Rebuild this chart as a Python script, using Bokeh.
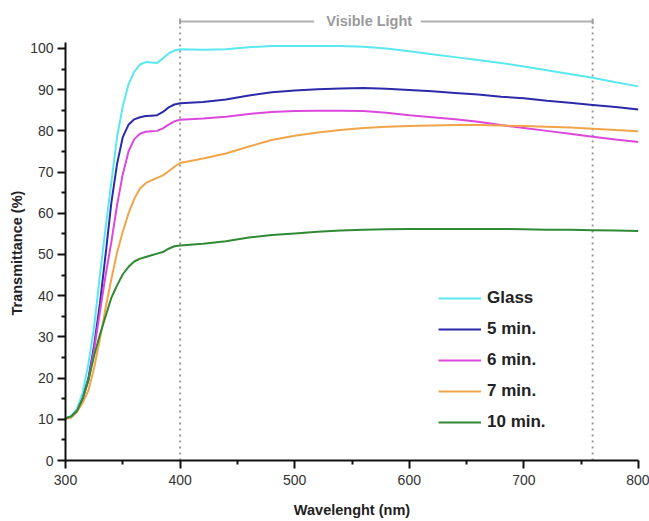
from bokeh.plotting import figure
from bokeh.models import Label, Legend, LegendItem, Range1d, FixedTicker, Title
from bokeh.embed import file_html
from bokeh.resources import INLINE

wavelength = [300, 305, 310, 315, 320, 325, 330, 335, 340, 345, 350, 355, 360, 365, 370,
              375, 380, 385, 390, 395, 400, 420, 440, 460, 480, 500, 520, 540, 560, 580,
              600, 620, 640, 660, 680, 700, 720, 740, 760, 780, 800]

glass = [10.2, 10.8, 12.5, 16.5, 23.5, 32.5, 45.0, 56.5, 67.5, 78.5, 86.0, 91.3, 94.4, 96.1, 96.7,
         96.6, 96.5, 97.6, 98.8, 99.5, 99.8, 99.7, 99.8, 100.3, 100.6, 100.6, 100.6, 100.6, 100.4, 100.0,
         99.3, 98.6, 97.9, 97.2, 96.5, 95.6, 94.7, 93.8, 92.9, 91.8, 90.8]
min5 = [10.2, 10.6, 12.0, 15.0, 20.0, 28.0, 38.0, 50.0, 62.5, 72.0, 78.5, 81.5, 82.8, 83.3, 83.6,
        83.7, 83.8, 84.6, 85.7, 86.4, 86.7, 87.0, 87.6, 88.6, 89.4, 89.8, 90.1, 90.3, 90.4, 90.2,
        89.9, 89.6, 89.2, 88.8, 88.3, 87.9, 87.3, 86.8, 86.3, 85.8, 85.2]
min6 = [10.2, 10.6, 12.0, 15.0, 19.5, 27.0, 36.0, 45.0, 53.0, 62.0, 69.5, 75.0, 78.0, 79.3, 79.8,
        79.9, 80.0, 80.6, 81.5, 82.3, 82.7, 83.0, 83.4, 84.1, 84.6, 84.8, 84.9, 84.9, 84.8, 84.4,
        83.8, 83.3, 82.8, 82.2, 81.4, 80.7, 80.0, 79.3, 78.6, 77.9, 77.3]
min7 = [10.2, 10.4, 11.8, 14.0, 17.0, 22.5, 29.5, 37.0, 44.0, 50.5, 55.5, 60.0, 63.5, 66.0, 67.3,
        68.0, 68.6, 69.2, 70.2, 71.3, 72.2, 73.3, 74.5, 76.2, 77.8, 78.8, 79.6, 80.2, 80.7, 81.0,
        81.2, 81.3, 81.4, 81.4, 81.3, 81.2, 81.0, 80.8, 80.5, 80.2, 79.9]
min10 = [10.2, 10.7, 12.0, 15.0, 19.5, 25.5, 30.5, 35.0, 39.5, 42.5, 45.2, 47.0, 48.3, 49.0, 49.4,
         49.8, 50.2, 50.6, 51.4, 52.0, 52.2, 52.6, 53.2, 54.1, 54.7, 55.1, 55.5, 55.8, 56.0, 56.1,
         56.2, 56.2, 56.2, 56.2, 56.2, 56.1, 56.0, 56.0, 55.9, 55.8, 55.7]

series_names = ["Glass", "5 min.", "6 min.", "7 min.", "10 min."]
series_colors = ["#5ae8f0", "#2b2baa", "#dc48dc", "#f0a548", "#2f8a33"]
series_values = [glass, min5, min6, min7, min10]

x_ticks = [300, 400, 500, 600, 700, 800]
y_ticks = [0, 10, 20, 30, 40, 50, 60, 70, 80, 90, 100]

visible_start = 400
visible_end = 760
bracket_level = 106.55
label_center = 565
gap_left = 517
gap_right = 610

FONT = "Liberation Sans"

p = figure(frame_width=573, frame_height=452, output_backend="svg", toolbar_location=None,
           x_range=Range1d(300, 800), y_range=Range1d(0, 109.7),
           min_border_left=65, min_border_right=11, min_border_top=8, min_border_bottom=60)
p.outline_line_color = None
p.grid.grid_line_color = None
p.background_fill_color = "white"

# visible light markers
for xv in (visible_start, visible_end):
    p.segment(x0=[xv], y0=[0], x1=[xv], y1=[bracket_level], line_color="#9a9a9a",
              line_width=2, line_dash="2 4")
p.segment(x0=[visible_start, gap_right], y0=[bracket_level, bracket_level],
          x1=[gap_left, visible_end], y1=[bracket_level, bracket_level],
          line_color="#b0b0b0", line_width=2)
p.segment(x0=[visible_start, visible_end], y0=[bracket_level - 0.7, bracket_level - 0.7],
          x1=[visible_start, visible_end], y1=[bracket_level + 0.7, bracket_level + 0.7],
          line_color="#a0a0a0", line_width=2)
p.add_layout(Label(x=label_center, y=bracket_level, text="Visible Light", text_align="center",
                   text_baseline="middle", text_font=FONT, text_font_style="bold",
                   text_font_size="14.5px", text_color="#9a9a9a"))

items = []
for name, col, vals in zip(series_names, series_colors, series_values):
    r = p.line(wavelength, vals, line_color=col, line_width=2)
    items.append(LegendItem(label=name, renderers=[r]))

legend = Legend(items=items, location=(373, 28), glyph_width=43, glyph_height=20,
                label_height=20, label_standoff=6, spacing=11, padding=0, margin=0,
                border_line_color=None, background_fill_alpha=0,
                label_text_font=FONT, label_text_font_style="bold",
                label_text_font_size="17px", label_text_color="#222222")
p.add_layout(legend, "center")

for ax in (p.xaxis[0], p.yaxis[0]):
    ax.axis_line_width = 2
    ax.axis_line_color = "#111111"
    ax.major_tick_line_width = 2
    ax.minor_tick_line_width = 2
    ax.major_tick_line_color = "#111111"
    ax.minor_tick_line_color = "#111111"
    ax.major_tick_in = 0
    ax.major_tick_out = 8
    ax.minor_tick_in = 0
    ax.minor_tick_out = 4
    ax.major_label_text_font = FONT
    ax.major_label_text_font_size = "14px"
    ax.major_label_text_color = "#333333"

p.xaxis.ticker = FixedTicker(ticks=x_ticks, minor_ticks=[350, 450, 550, 650, 750])
p.yaxis.ticker = FixedTicker(ticks=y_ticks, minor_ticks=[5, 15, 25, 35, 45, 55, 65, 75, 85, 95])
p.yaxis.bounds = (0, 101.5)
p.xaxis.major_label_standoff = 6
p.yaxis.major_label_standoff = 4
p.xaxis.axis_label = "Wavelenght (nm)"
p.xaxis.axis_label_text_font = FONT
p.xaxis.axis_label_text_font_style = "bold"
p.xaxis.axis_label_text_font_size = "14.5px"
p.xaxis.axis_label_text_color = "#222222"
p.xaxis.axis_label_standoff = 14

ytitle = Title(text="Transmittance (%)", align="left", offset=145, standoff=6,
               text_font=FONT, text_font_style="bold", text_font_size="14.5px",
               text_color="#222222")
p.add_layout(ytitle, "left")

open("out.html", "w").write(file_html(p, INLINE))
